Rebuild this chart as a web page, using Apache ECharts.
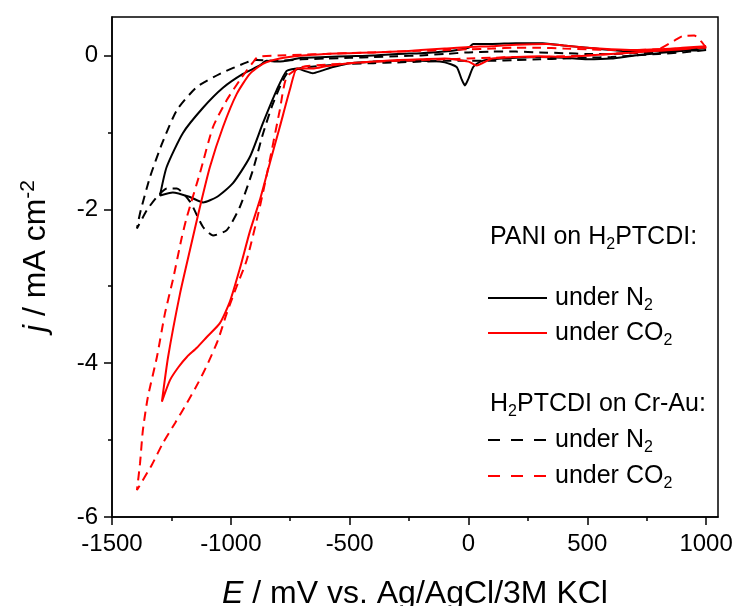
<!DOCTYPE html>
<html><head><meta charset="utf-8">
<script src="https://cdn.jsdelivr.net/npm/echarts@6/dist/echarts.min.js"></script>
<style>html,body{margin:0;padding:0;background:#fff}#c{width:738px;height:606px}</style>
</head><body><div id="c"></div>
<script>
// PANI on H2PTCDI, under N2 (black solid): [E mV, j mA cm-2]
const panN2 = [
  [1000,0.1],[900,0.06],[800,0.03],[700,0.0],[600,-0.04],[500,-0.05],[400,-0.03],[300,-0.02],[200,-0.03],[100,-0.05],[50,-0.08],[20,-0.15],[0,-0.3],[-15,-0.39],[-30,-0.3],[-50,-0.15],[-100,-0.09],[-200,-0.07],[-300,-0.07],[-400,-0.08],[-500,-0.1],[-570,-0.15],[-620,-0.2],[-655,-0.23],[-690,-0.2],[-720,-0.17],[-765,-0.2],[-807,-0.45],[-865,-0.88],[-920,-1.32],[-991,-1.66],[-1059,-1.84],[-1117,-1.91],[-1172,-1.84],[-1244,-1.78],[-1298,-1.82],
  [-1270,-1.45],[-1202,-1.01],[-1117,-0.68],[-1033,-0.42],[-949,-0.24],[-878,-0.13],[-850,-0.07],[-800,-0.08],[-700,-0.03],[-600,-0.02],[-500,-0.01],[-400,0.0],[-300,0.02],[-200,0.03],[-100,0.05],[0,0.1],[20,0.15],[100,0.15],[200,0.16],[312,0.16],[400,0.13],[500,0.1],[600,0.07],[700,0.05],[800,0.06],[900,0.08],[1000,0.1]
];
// PANI on H2PTCDI, under CO2 (red solid)
const panCO2 = [
  [1000,0.12],[900,0.08],[800,0.06],[700,0.04],[600,0.02],[500,0.0],[400,-0.02],[300,-0.01],[200,-0.02],[100,-0.04],[34,-0.13],[0,-0.08],[-100,-0.04],[-200,-0.05],[-300,-0.06],[-400,-0.08],[-500,-0.1],[-600,-0.14],[-650,-0.17],[-700,-0.17],[-722,-0.17],[-752,-0.45],[-794,-0.93],[-836,-1.4],[-878,-1.88],[-920,-2.29],[-962,-2.77],[-1004,-3.2],[-1046,-3.48],[-1101,-3.66],[-1143,-3.8],[-1185,-3.92],[-1220,-4.05],[-1256,-4.22],[-1290,-4.5],
  [-1264,-3.92],[-1214,-3.1],[-1172,-2.53],[-1130,-1.97],[-1088,-1.45],[-1033,-0.93],[-975,-0.5],[-920,-0.24],[-865,-0.11],[-794,-0.04],[-700,0.0],[-600,0.02],[-500,0.03],[-400,0.04],[-300,0.05],[-200,0.07],[-100,0.09],[0,0.11],[100,0.12],[200,0.14],[330,0.15],[400,0.13],[500,0.1],[600,0.08],[700,0.07],[800,0.08],[900,0.1],[1000,0.12]
];
// H2PTCDI on Cr-Au, under N2 (black dashed)
const ptN2 = [
  [1000,0.07],[900,0.04],[800,0.02],[700,0.0],[600,-0.02],[500,-0.03],[400,-0.04],[300,-0.05],[200,-0.06],[100,-0.07],[0,-0.07],[-100,-0.07],[-200,-0.08],[-300,-0.09],[-400,-0.1],[-500,-0.11],[-600,-0.13],[-700,-0.16],[-765,-0.24],[-823,-0.63],[-865,-1.02],[-907,-1.49],[-962,-1.97],[-1017,-2.27],[-1075,-2.34],[-1117,-2.23],[-1172,-1.9],[-1227,-1.73],[-1269,-1.73],[-1311,-1.84],[-1353,-2.01],[-1395,-2.25],
  [-1382,-2.05],[-1340,-1.58],[-1290,-1.15],[-1227,-0.71],[-1143,-0.41],[-1046,-0.24],[-933,-0.09],[-891,-0.06],[-800,-0.07],[-700,-0.05],[-600,-0.04],[-500,-0.03],[-400,-0.02],[-300,-0.01],[-200,0.0],[-100,0.02],[0,0.04],[100,0.05],[200,0.05],[300,0.04],[400,0.03],[500,0.02],[600,0.02],[700,0.03],[800,0.04],[900,0.06],[1000,0.07]
];
// H2PTCDI on Cr-Au, under CO2 (red dashed)
const ptCO2 = [
  [1000,0.1],[980,0.18],[950,0.26],[900,0.25],[870,0.2],[800,0.08],[700,0.04],[600,0.02],[500,0.0],[400,-0.01],[300,-0.02],[200,-0.02],[100,-0.03],[0,-0.04],[-100,-0.05],[-200,-0.06],[-300,-0.07],[-400,-0.08],[-500,-0.1],[-600,-0.12],[-700,-0.15],[-765,-0.28],[-794,-0.71],[-836,-1.36],[-878,-1.97],[-933,-2.66],[-975,-3.0],[-1017,-3.35],[-1054,-3.7],[-1096,-4.0],[-1138,-4.26],[-1185,-4.52],[-1235,-4.78],[-1286,-5.04],[-1332,-5.32],[-1395,-5.65],
  [-1382,-5.3],[-1370,-4.87],[-1349,-4.44],[-1311,-3.92],[-1277,-3.35],[-1244,-2.92],[-1206,-2.36],[-1185,-2.1],[-1130,-1.53],[-1075,-0.93],[-1017,-0.58],[-962,-0.32],[-907,-0.09],[-886,-0.02],[-800,0.0],[-700,0.01],[-600,0.02],[-500,0.03],[-400,0.04],[-300,0.05],[-200,0.06],[-100,0.07],[0,0.08],[100,0.09],[200,0.1],[300,0.1],[400,0.09],[500,0.08],[600,0.07],[700,0.07],[800,0.08],[900,0.09],[1000,0.1]
];
const xMajorTicks = [-1500,-1000,-500,0,500,1000];
const xMinorTicks = [-1250,-750,-250,250,750];
const yMajorTicks = [-6,-4,-2,0];
const yMinorTicks = [-5,-3,-1];
const xRange = [-1500,1050];
const yRange = [-6,0.5];

const FONT = 'Liberation Sans, Arial, sans-serif';
const chart = echarts.init(document.getElementById('c'), null, {renderer:'canvas'});

function ser(name, data, color, dashed) {
  return {name, type:'line', data, showSymbol:false, symbol:'none', smooth:0.2,
    lineStyle:{color, width:2, type: dashed ? [9,6] : 'solid'},
    xAxisIndex:0, yAxisIndex:0, animation:false, z:3};
}
const subRich = {
  t:{fontSize:25, fontFamily:FONT, color:'#000', lineHeight:30},
  s:{fontSize:16, fontFamily:FONT, color:'#000', lineHeight:16, verticalAlign:'bottom'}
};
function legendText(txt, x, y) {
  return {type:'text', left:x, top:y-12, z:10, style:{text:txt, rich:subRich, font:'25px '+FONT, fill:'#000'}};
}
function legendLine(y, color, dashed) {
  return {type:'line', z:10, shape:{x1:488, y1:y, x2:547, y2:y},
    style:{stroke:color, lineWidth:2, lineDash: dashed ? [12,11] : null}};
}
const plain = v => String(v);

chart.setOption({
  animation:false,
  backgroundColor:'#fff',
  grid:{left:112, right:20, top:17, bottom:89, show:true, borderColor:'#000', borderWidth:1.5,
        backgroundColor:'transparent', containLabel:false, outerBoundsMode:'none'},
  xAxis:[
    {type:'value', min:xRange[0], max:xRange[1], position:'bottom',
     axisLine:{show:true, onZero:false, lineStyle:{color:'#000', width:1.5}},
     axisTick:{show:true, inside:false, length:8, lineStyle:{color:'#000', width:1.5}, customValues:xMajorTicks},
     axisLabel:{customValues:xMajorTicks, formatter:plain, fontSize:24, color:'#000', fontFamily:FONT, margin:15},
     splitLine:{show:false},
     name:'{i|E} / mV vs. Ag/AgCl/3M KCl', nameLocation:'middle', nameGap:61,
     nameTextStyle:{fontSize:32, color:'#000', fontFamily:FONT,
       rich:{i:{fontStyle:'italic', fontSize:32, fontFamily:FONT, color:'#000'}}}},
    {type:'value', min:xRange[0], max:xRange[1], position:'bottom',
     axisLine:{show:false, onZero:false},
     axisTick:{show:true, inside:false, length:4, lineStyle:{color:'#000', width:1.5}, customValues:xMinorTicks},
     axisLabel:{show:false}, splitLine:{show:false}}
  ],
  yAxis:[
    {type:'value', min:yRange[0], max:yRange[1], position:'left',
     axisLine:{show:true, onZero:false, lineStyle:{color:'#000', width:1.5}},
     axisTick:{show:true, inside:false, length:8, lineStyle:{color:'#000', width:1.5}, customValues:yMajorTicks},
     axisLabel:{customValues:yMajorTicks, formatter:plain, fontSize:24, color:'#000', fontFamily:FONT, margin:14},
     splitLine:{show:false},
     name:'{i|j} / mA cm{sup|-2}', nameLocation:'middle', nameGap:58, nameRotate:90,
     nameTextStyle:{fontSize:32, color:'#000', fontFamily:FONT, lineHeight:36, padding:[0,0,0,22],
       rich:{i:{fontStyle:'italic', fontSize:32, fontFamily:FONT, color:'#000', lineHeight:36},
             sup:{fontSize:21, fontFamily:FONT, color:'#000', lineHeight:18, verticalAlign:'top'}}}},
    {type:'value', min:yRange[0], max:yRange[1], position:'left',
     axisLine:{show:false, onZero:false},
     axisTick:{show:true, inside:false, length:4, lineStyle:{color:'#000', width:1.5}, customValues:yMinorTicks},
     axisLabel:{show:false}, splitLine:{show:false}}
  ],
  series:[
    ser('PANI on H2PTCDI under N2', panN2, '#000000', false),
    ser('H2PTCDI on Cr-Au under N2', ptN2, '#000000', true),
    ser('PANI on H2PTCDI under CO2', panCO2, '#ff0000', false),
    ser('H2PTCDI on Cr-Au under CO2', ptCO2, '#ff0000', true)
  ],
  graphic:[
    legendText('{t|PANI on H}{s|2}{t|PTCDI:}', 490, 237),
    legendLine(298, '#000', false), legendText('{t|under N}{s|2}', 555, 298),
    legendLine(333, '#ff0000', false), legendText('{t|under CO}{s|2}', 555, 333),
    legendText('{t|H}{s|2}{t|PTCDI on Cr-Au:}', 490, 404),
    legendLine(440, '#000', true), legendText('{t|under N}{s|2}', 555, 440),
    legendLine(476, '#ff0000', true), legendText('{t|under CO}{s|2}', 555, 476)
  ]
});
</script>
</body></html>
